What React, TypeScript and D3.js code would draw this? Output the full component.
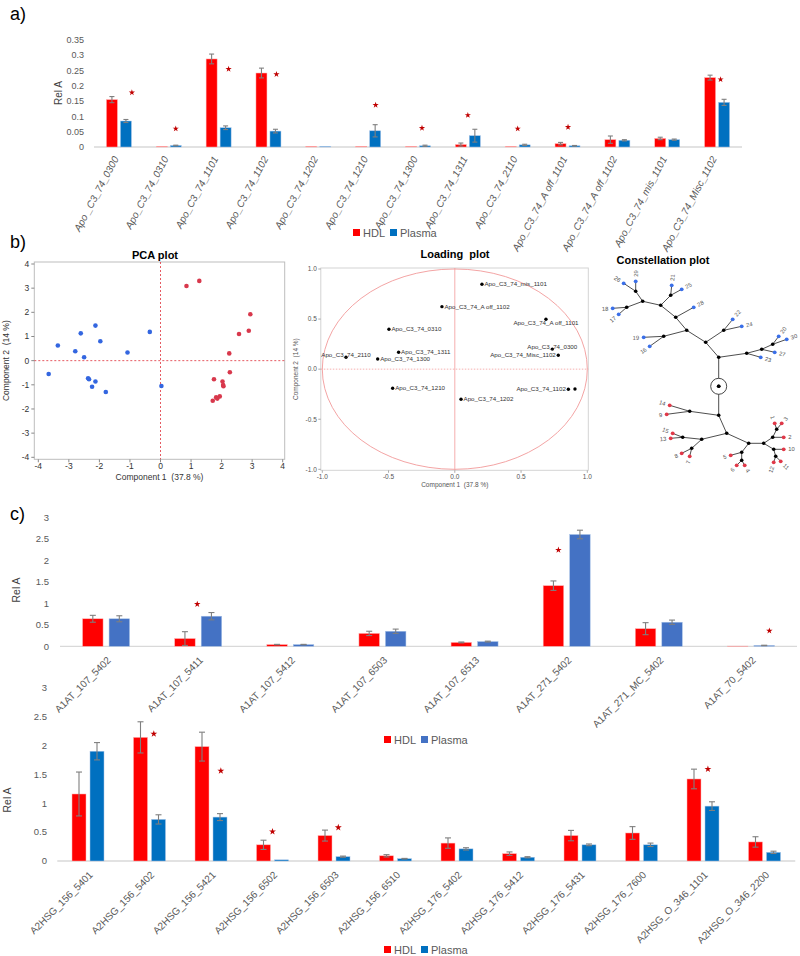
import React from "react";
import * as d3 from "d3";

// ---------- Panel a data ----------
const apoCategories = [
  "Apo _C3_74_0300", "Apo_C3_74_0310", "Apo_C3_74_1101", "Apo_C3_74_1102", "Apo_C3_74_1202",
  "Apo_C3_74_1210", "Apo_C3_74_1300", "Apo_C3_74_1311", "Apo_C3_74_2110", "Apo_C3_74_A off_1101",
  "Apo_C3_74_A off_1102", "Apo_C3_74_mis_1101", "Apo_C3_74_Misc_1102",
];
const apoHDL = [0.155, 0.002, 0.288, 0.242, 0.002, 0.002, 0.002, 0.008, 0.002, 0.011, 0.024, 0.028, 0.227];
const apoHDLErr = [0.01, 0.0, 0.016, 0.016, 0.0, 0.0, 0.0, 0.005, 0.0, 0.004, 0.012, 0.004, 0.008];
const apoPlasma = [0.085, 0.005, 0.063, 0.052, 0.002, 0.053, 0.004, 0.037, 0.007, 0.004, 0.022, 0.024, 0.146];
const apoPlasmaErr = [0.005, 0.001, 0.006, 0.006, 0.0, 0.02, 0.002, 0.021, 0.002, 0.001, 0.002, 0.002, 0.01];
// [category index, value, shift in category units]
const apoStars: [number, number, number][] = [
  [0, 0.178, 0.26], [1, 0.06, 0.14], [2, 0.255, 0.2], [3, 0.238, 0.16], [5, 0.137, 0.15],
  [6, 0.062, 0.08], [7, 0.104, 0], [8, 0.06, 0], [9, 0.065, 0.01], [12, 0.221, 0.07],
];
const apoTicks = [0, 0.05, 0.1, 0.15, 0.2, 0.25, 0.3, 0.35];

// ---------- Panel b data ----------
// PCA scores [component1, component2]
const pcaPlasma: [number, number][] = [
  [-2.13, 1.45], [-2.61, 1.13], [-0.35, 1.19], [-1.97, 0.8], [-3.36, 0.63], [-2.79, 0.39],
  [-1.08, 0.34], [-2.5, 0.14], [-3.66, -0.55], [-2.37, -0.73], [-2.34, -0.77], [-2.13, -0.86],
  [-2.24, -1.08], [-1.79, -1.3], [0.03, -1.05],
];
const pcaHDL: [number, number][] = [
  [0.85, 3.09], [1.27, 3.3], [2.94, 1.92], [2.89, 1.24], [2.57, 1.1], [2.25, 0.3], [2.27, -0.48],
  [1.75, -0.77], [2.03, -0.86], [2.05, -1.01], [2.06, -1.06], [1.94, -1.48], [1.82, -1.52],
  [1.86, -1.57], [1.71, -1.66],
];
const pcaTicks = [-4, -3, -2, -1, 0, 1, 2, 3, 4];

const loadingNames = [
  "Apo_C3_74_mis_1101", "Apo_C3_74_A off_1102", "Apo_C3_74_A off_1101", "Apo_C3_74_0310",
  "Apo_C3_74_0300", "Apo_C3_74_1311", "Apo_C3_74_1300", "Apo_C3_74_2110", "Apo_C3_74_Misc_1102",
  "Apo_C3_74_1210", "Apo_C3_74_1202", "Apo_C3_74_1102", "Apo_C3_74_1101",
];
const loadingX = [0.205, -0.097, 0.688, -0.497, 0.736, -0.424, -0.582, -0.821, 0.781, -0.469, 0.047, 0.857, 0.907];
const loadingY = [0.847, 0.624, 0.498, 0.398, 0.2, 0.168, 0.102, 0.119, 0.139, -0.191, -0.3, -0.2, -0.198];
const loadingTicks = [-1, -0.5, 0, 0.5, 1];

// Constellation tree: [id, parent, x, y]
const constellationNodes: [string, string | null, number, number][] = [
  ["root", null, 0, 0],
  ["A", "root", 0, -2.9],
  ["C", "A", 2.8, -3.3], ["D", "C", 4.3, -3.7], ["E", "D", 5.4, -4.2],
  ["20", "E", 6.0, -5.0], ["30", "E", 6.8, -4.7], ["27", "D", 5.6, -3.4], ["23", "C", 4.2, -2.9],
  ["F", "A", -1.3, -4.4], ["G", "F", 0.5, -5.6], ["22", "G", 1.4, -6.7], ["24", "G", 2.3, -6.0],
  ["H", "F", -3.2, -5.6], ["I", "H", -5.5, -5.0], ["19", "I", -7.5, -4.9], ["16", "I", -6.9, -4.0],
  ["J", "H", -4.3, -6.9], ["28", "J", -2.5, -7.9], ["K", "J", -5.8, -8.1],
  ["M", "K", -4.8, -9.1], ["21", "M", -4.7, -10.1], ["25", "M", -3.7, -9.7],
  ["L", "K", -7.6, -8.5], ["N", "L", -8.3, -9.5], ["29", "N", -8.3, -10.5], ["26", "N", -9.5, -10.3],
  ["O", "L", -9.2, -7.9], ["18", "O", -10.6, -7.8], ["17", "O", -10.0, -7.2],
  ["B", "root", 0, 2.9],
  ["P", "B", -2.9, 2.5], ["14", "P", -4.9, 1.9], ["9", "P", -5.2, 2.8],
  ["Q", "B", 0.8, 4.7], ["R", "Q", -1.7, 5.3], ["S", "R", -3.6, 5.1], ["15", "S", -4.6, 4.7], ["13", "S", -4.8, 5.2],
  ["T", "R", -2.7, 6.2], ["8", "T", -3.7, 6.7], ["7", "T", -2.9, 7.0],
  ["U", "Q", 3.0, 5.7], ["V", "U", 2.3, 6.6], ["5", "V", 1.2, 6.9], ["W", "V", 2.3, 7.4],
  ["6", "W", 1.8, 7.9], ["4", "W", 2.6, 7.9],
  ["X", "U", 4.5, 5.7], ["Y", "X", 5.4, 5.1], ["Z", "Y", 5.8, 4.3], ["1", "Z", 5.6, 3.7], ["3", "Z", 6.3, 3.7],
  ["2", "Y", 6.5, 5.1], ["AA", "X", 5.5, 6.3], ["10", "AA", 6.5, 6.3], ["AB", "AA", 5.7, 7.0],
  ["12", "AB", 5.5, 7.6], ["11", "AB", 6.2, 7.5],
];

// ---------- Panel c data ----------
const a1atCategories = [
  "A1AT_107_5402", "A1AT_107_5411", "A1AT_107_5412", "A1AT_107_6503",
  "A1AT_107_6513", "A1AT_271_5402", "A1AT_271_MC_5402", "A1AT_70_5402",
];
const a1atHDL = [0.64, 0.18, 0.04, 0.3, 0.09, 1.41, 0.41, 0.005];
const a1atHDLErr = [0.08, 0.16, 0.005, 0.05, 0.01, 0.11, 0.14, 0];
const a1atPlasma = [0.64, 0.7, 0.04, 0.35, 0.11, 2.6, 0.56, 0.02];
const a1atPlasmaErr = [0.07, 0.085, 0.005, 0.05, 0.01, 0.1, 0.05, 0.005];
const a1atStars: [number, number, number][] = [[1, 0.98, -0.01], [5, 2.24, -0.09], [7, 0.36, 0.2]];

const a2hsgCategories = [
  "A2HSG_156_5401", "A2HSG_156_5402", "A2HSG_156_5421", "A2HSG_156_6502", "A2HSG_156_6503",
  "A2HSG_156_6510", "A2HSG_176_5402", "A2HSG_176_5412", "A2HSG_176_5431", "A2HSG_176_7600",
  "A2HSG_O_346_1101", "A2HSG_O_346_2200",
];
const a2hsgHDL = [1.16, 2.14, 1.98, 0.28, 0.44, 0.09, 0.31, 0.127, 0.44, 0.485, 1.42, 0.33];
const a2hsgHDLErr = [0.38, 0.27, 0.25, 0.08, 0.095, 0.02, 0.09, 0.03, 0.09, 0.11, 0.17, 0.09];
const a2hsgPlasma = [1.9, 0.72, 0.76, 0.02, 0.075, 0.04, 0.21, 0.065, 0.28, 0.28, 0.95, 0.15];
const a2hsgPlasmaErr = [0.15, 0.08, 0.06, 0, 0.01, 0.005, 0.02, 0.01, 0.015, 0.03, 0.075, 0.02];
const a2hsgStars: [number, number, number][] = [[1, 2.2, 0.07], [2, 1.56, 0.16], [3, 0.51, 0], [4, 0.58, 0.07], [10, 1.59, 0.08]];
const relATicks = [0, 0.5, 1, 1.5, 2, 2.5, 3];

const FONT = "'Liberation Sans', Arial, sans-serif";
const RED = "#FF0000";
const STAR = "#C00000";
const GRAY = "#595959";

type BarProps = {
  cats: string[]; hdl: number[]; hdlErr: number[]; plasma: number[]; plasmaErr: number[];
  stars: [number, number, number][]; ticks: number[];
  left: number; right: number; base: number; top: number;
  blue: string; barW: number; gap: number; cap: number;
  tickX: number; tickFont: number; titleX: number; titleY: number;
  labelRot: number; labelDx: number; labelDy: number; labelFont: number; italic: boolean;
  starSize: number;
};

function BarChart(p: BarProps) {
  const x = d3.scaleBand<string>().domain(p.cats).range([p.left, p.right]);
  const yMax = p.ticks[p.ticks.length - 1];
  const y = d3.scaleLinear().domain([0, yMax]).range([p.base, p.top]);
  const cx = (c: string) => (x(c) as number) + x.bandwidth() / 2;
  const starPath = d3.symbol().type(d3.symbolStar).size(p.starSize)() as string;
  const errBar = (xc: number, v: number, e: number, key: string) =>
    e > 0 ? (
      <g key={key} stroke="#7F7F7F" strokeWidth={1.1}>
        <line x1={xc} x2={xc} y1={y(v + e)} y2={y(Math.max(0, v - e))} />
        <line x1={xc - p.cap / 2} x2={xc + p.cap / 2} y1={y(v + e)} y2={y(v + e)} />
        <line x1={xc - p.cap / 2} x2={xc + p.cap / 2} y1={y(Math.max(0, v - e))} y2={y(Math.max(0, v - e))} />
      </g>
    ) : null;
  return (
    <g fontFamily={FONT}>
      {p.ticks.map((t) => (
        <text key={t} x={p.tickX} y={y(t)} dy="0.35em" textAnchor="end" fontSize={p.tickFont} fill={GRAY}>
          {String(+t.toFixed(2))}
        </text>
      ))}
      <text transform={`translate(${p.titleX},${p.titleY}) rotate(-90)`} textAnchor="middle" fontSize={p.tickFont + 1} fill="#404040">
        Rel A
      </text>
      <line x1={p.left} x2={p.right} y1={y(0)} y2={y(0)} stroke="#D9D9D9" strokeWidth={1.3} />
      {p.cats.map((c, i) => {
        const xc = cx(c);
        const rx = xc - p.gap / 2 - p.barW;
        const bx = xc + p.gap / 2;
        return (
          <g key={c}>
            <rect x={rx} y={y(p.hdl[i])} width={p.barW} height={y(0) - y(p.hdl[i])} fill={RED} stroke="#FFB3B3" strokeWidth={0.5} />
            <rect x={bx} y={y(p.plasma[i])} width={p.barW} height={y(0) - y(p.plasma[i])} fill={p.blue} stroke="#A8C4E8" strokeWidth={0.5} />
            {errBar(rx + p.barW / 2, p.hdl[i], p.hdlErr[i], "eh")}
            {errBar(bx + p.barW / 2, p.plasma[i], p.plasmaErr[i], "ep")}
            <text
              transform={`translate(${xc + p.labelDx},${p.base + p.labelDy}) rotate(${p.labelRot})`}
              textAnchor="end" dy="0.35em" fontSize={p.labelFont} fill={GRAY}
              fontStyle={p.italic ? "italic" : "normal"}
            >
              {c}
            </text>
          </g>
        );
      })}
      {p.stars.map(([ci, v, s]) => (
        <path key={ci} d={starPath} fill={STAR}
          transform={`translate(${cx(p.cats[ci]) + s * x.bandwidth()},${y(v)})`} />
      ))}
    </g>
  );
}

function Legend({ x, y, blue }: { x: number; y: number; blue: string }) {
  return (
    <g fontFamily={FONT} fontSize={11} fill={GRAY}>
      <rect x={x} y={y - 4} width={7} height={7} fill={RED} />
      <text x={x + 10} y={y} dy="0.35em">HDL</text>
      <rect x={x + 37} y={y - 4} width={7} height={7} fill={blue} />
      <text x={x + 47} y={y} dy="0.35em">Plasma</text>
    </g>
  );
}

function PCAPlot() {
  const x = d3.scaleLinear().domain([-4, 4]).range([38.3, 282.7]);
  const y = d3.scaleLinear().domain([-4, 4]).range([457.3, 264]);
  const x0 = x(-4) - 4, x1 = x(4) + 2, y0 = y(4) - 2, y1 = y(-4) + 2;
  return (
    <g fontFamily={FONT}>
      <text x={155} y={259} textAnchor="middle" fontSize={11} fontWeight="bold">PCA plot</text>
      <rect x={x0} y={y0} width={x1 - x0} height={y1 - y0} fill="none" stroke="#BDBDBD" strokeWidth={1} />
      <line x1={x(0)} x2={x(0)} y1={y0} y2={y1} stroke="#E0303A" strokeWidth={0.8} strokeDasharray="2,2" />
      <line x1={x0} x2={x1} y1={y(0)} y2={y(0)} stroke="#E0303A" strokeWidth={0.8} strokeDasharray="2,2" />
      {pcaTicks.map((t) => (
        <g key={t} fontSize={8.5} fill="#333">
          <line x1={x(t)} x2={x(t)} y1={y1} y2={y1 + 3} stroke="#888" />
          <text x={x(t)} y={y1 + 10} textAnchor="middle">{t}</text>
          <line x1={x0 - 3} x2={x0} y1={y(t)} y2={y(t)} stroke="#888" />
          <text x={x0 - 5} y={y(t)} dy="0.35em" textAnchor="end">{t}</text>
        </g>
      ))}
      <text x={(x0 + x1) / 2} y={480} textAnchor="middle" fontSize={8.5} fill="#333">Component 1{"\u00a0\u00a0"}(37.8 %)</text>
      <text transform={`translate(9,${(y0 + y1) / 2}) rotate(-90)`} textAnchor="middle" fontSize={8.5} fill="#333">Component 2{"\u00a0\u00a0"}(14 %)</text>
      {pcaPlasma.map(([a, b], i) => <circle key={"p" + i} cx={x(a)} cy={y(b)} r={2.3} fill="#3366E0" />)}
      {pcaHDL.map(([a, b], i) => <circle key={"h" + i} cx={x(a)} cy={y(b)} r={2.3} fill="#D8384C" />)}
    </g>
  );
}

function LoadingPlot() {
  const x = d3.scaleLinear().domain([-1, 1]).range([322.3, 587.3]);
  const y = d3.scaleLinear().domain([-1, 1]).range([469.3, 269]);
  const x0 = x(-1) - 1.5, x1 = x(1) + 1, y0 = y(1) - 1, y1 = y(-1) + 1;
  // label placement: anchor and vertical offset per variable
  const place: Record<string, [string, number]> = {
    "Apo_C3_74_mis_1101": ["start", 0], "Apo_C3_74_A off_1102": ["start", 0], "Apo_C3_74_A off_1101": ["middle", 4],
    "Apo_C3_74_0310": ["start", 0], "Apo_C3_74_0300": ["middle", -2], "Apo_C3_74_1311": ["start", 0],
    "Apo_C3_74_1300": ["start", 0], "Apo_C3_74_2110": ["middle", -2], "Apo_C3_74_Misc_1102": ["end", 0],
    "Apo_C3_74_1210": ["start", 0], "Apo_C3_74_1202": ["start", 0], "Apo_C3_74_1102": ["end", 0],
    "Apo_C3_74_1101": ["none", 0],
  };
  return (
    <g fontFamily={FONT}>
      <text x={455} y={258} textAnchor="middle" fontSize={11} fontWeight="bold">Loading{"\u00a0\u00a0"}plot</text>
      <rect x={x0} y={y0} width={x1 - x0} height={y1 - y0} fill="none" stroke="#D4D4D4" strokeWidth={1} />
      <ellipse cx={x(0)} cy={y(0)} rx={x(1) - x(0)} ry={y(0) - y(1)} fill="none" stroke="#F29A9A" strokeWidth={0.9} />
      <line x1={x(0)} x2={x(0)} y1={y0} y2={y1} stroke="#F29A9A" strokeWidth={0.8} />
      <line x1={x0} x2={x1} y1={y(0)} y2={y(0)} stroke="#F29A9A" strokeWidth={0.8} strokeDasharray="1.5,1.5" />
      {loadingTicks.map((t) => (
        <g key={t} fontSize={6.5} fill="#555">
          <line x1={x(t)} x2={x(t)} y1={y1} y2={y1 + 2.5} stroke="#AAA" />
          <text x={x(t)} y={y1 + 6.5} dy="0.35em" textAnchor="middle">{t.toFixed(1)}</text>
          <line x1={x0 - 2.5} x2={x0} y1={y(t)} y2={y(t)} stroke="#AAA" />
          <text x={x0 - 4} y={y(t)} dy="0.35em" textAnchor="end">{t.toFixed(1)}</text>
        </g>
      ))}
      <text x={x(0)} y={487} textAnchor="middle" fontSize={6.5} fill="#555">Component 1{"\u00a0\u00a0"}(37.8 %)</text>
      <text transform={`translate(298,${y(0)}) rotate(-90)`} textAnchor="middle" fontSize={6.5} fill="#555">Component 2{"\u00a0\u00a0"}(14 %)</text>
      {loadingNames.map((n, i) => {
        const px = x(loadingX[i]), py = y(loadingY[i]);
        const [anchor, dy] = place[n];
        const tx = anchor === "start" ? px + 2.5 : anchor === "end" ? px - 2.5 : px;
        return (
          <g key={n}>
            <circle cx={px} cy={py} r={1.7} fill="#000" />
            {anchor !== "none" && (
              <text x={tx} y={py + dy} dy="0.35em" textAnchor={anchor} fontSize={6.2} fill="#333">{n}</text>
            )}
          </g>
        );
      })}
    </g>
  );
}

function ConstellationPlot() {
  const x = d3.scaleLinear().domain([-10, 10]).range([618.7, 818.7]);
  const y = d3.scaleLinear().domain([-10, 10]).range([286.3, 486.3]);
  const byId = new Map(constellationNodes.map((n) => [n[0], n]));
  const isLeaf = (id: string) => /^\d+$/.test(id);
  return (
    <g fontFamily={FONT}>
      <text x={663} y={264} textAnchor="middle" fontSize={11} fontWeight="bold">Constellation plot</text>
      {constellationNodes.filter((n) => n[1]).map(([id, par, a, b]) => {
        const pn = byId.get(par as string)!;
        return <line key={"e" + id} x1={x(pn[2])} y1={y(pn[3])} x2={x(a)} y2={y(b)} stroke="#3A3A3A" strokeWidth={0.9} />;
      })}
      <circle cx={x(0)} cy={y(0)} r={8} fill="#fff" stroke="#333" strokeWidth={0.9} />
      {constellationNodes.map(([id, par, a, b]) => {
        if (!isLeaf(id)) return <circle key={id} cx={x(a)} cy={y(b)} r={1.8} fill="#000" />;
        const pn = byId.get(par as string)!;
        const ang = Math.atan2(y(b) - y(pn[3]), x(a) - x(pn[2]));
        const lx = x(a) + Math.cos(ang) * 4.5, ly = y(b) + Math.sin(ang) * 4.5;
        let deg = (ang * 180) / Math.PI;
        let anchor = "start";
        if (deg > 90 || deg < -90) { deg += 180; anchor = "end"; }
        const color = +id >= 16 ? "#3A6FE8" : "#E03848";
        return (
          <g key={id}>
            <circle cx={x(a)} cy={y(b)} r={1.9} fill={color} />
            <text transform={`translate(${lx},${ly}) rotate(${deg})`} textAnchor={anchor} dy="0.35em" fontSize={5.8} fill="#555">{id}</text>
          </g>
        );
      })}
      <circle cx={x(0)} cy={y(0)} r={1.8} fill="#000" />
    </g>
  );
}

export default function App() {
  return (
    <svg width={800} height={956} style={{ position: "absolute", left: 0, top: 0, background: "#fff" }} fontFamily={FONT}>
      <text x={10} y={20} fontSize={18} fill="#000">a)</text>
      <BarChart cats={apoCategories} hdl={apoHDL} hdlErr={apoHDLErr} plasma={apoPlasma} plasmaErr={apoPlasmaErr}
        stars={apoStars} ticks={apoTicks} left={94} right={742} base={147} top={40}
        blue="#0070C0" barW={11} gap={3} cap={5} tickX={84} tickFont={9} titleX={62} titleY={93}
        labelRot={-62} labelDx={-3} labelDy={10} labelFont={10} italic={true} starSize={12} />
      <Legend x={353} y={233} blue="#0070C0" />

      <text x={10} y={248} fontSize={18} fill="#000">b)</text>
      <PCAPlot />
      <LoadingPlot />
      <ConstellationPlot />

      <text x={10} y={520} fontSize={18} fill="#000">c)</text>
      <BarChart cats={a1atCategories} hdl={a1atHDL} hdlErr={a1atHDLErr} plasma={a1atPlasma} plasmaErr={a1atPlasmaErr}
        stars={a1atStars} ticks={relATicks} left={60} right={797} base={646.3} top={517.3}
        blue="#4472C4" barW={20.5} gap={6} cap={6} tickX={49} tickFont={9.5} titleX={20} titleY={590}
        labelRot={-45} labelDx={3} labelDy={12} labelFont={10} italic={false} starSize={13} />
      <Legend x={384} y={740} blue="#4472C4" />

      <BarChart cats={a2hsgCategories} hdl={a2hsgHDL} hdlErr={a2hsgHDLErr} plasma={a2hsgPlasma} plasmaErr={a2hsgPlasmaErr}
        stars={a2hsgStars} ticks={relATicks} left={57.25} right={795.25} base={861} top={687.7}
        blue="#0070C0" barW={14} gap={4} cap={6} tickX={47} tickFont={9.5} titleX={11} titleY={800}
        labelRot={-45} labelDx={3} labelDy={12} labelFont={10} italic={false} starSize={15} />
      <Legend x={384} y={950} blue="#0070C0" />
    </svg>
  );
}
